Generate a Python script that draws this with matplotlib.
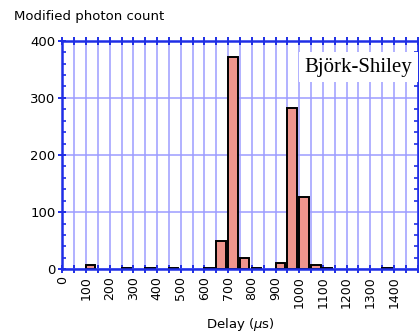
import numpy as np
import matplotlib
matplotlib.use("Agg")
import matplotlib.pyplot as plt
from matplotlib.ticker import MultipleLocator

# ----------------------------
# Data: histogram bins (start of 50 us bin) and counts
# ----------------------------
bin_starts = [100, 250, 350, 450, 600, 650, 700, 750, 800, 900, 950, 1000, 1050, 1100, 1350]
counts = [8, 3, 3, 3, 3, 50, 372, 20, 3, 11, 283, 127, 8, 3, 3]
xtick_labels = [str(v) for v in range(0, 1500, 100)]

BIN_WIDTH = 50
BLUE = "#1f2ee6"
GRID = "#9c9cff"
BAR = "#ef958d"

plt.rcParams["font.family"] = "DejaVu Sans"

fig = plt.figure(figsize=(4.19, 3.34), dpi=100)
ax = fig.add_axes([0.1487, 0.1937, 0.8482, 0.6844])

ax.bar(bin_starts, counts, width=BIN_WIDTH * 0.8, align="edge",
       color=BAR, edgecolor="black", linewidth=1.4, zorder=3)

ax.set_xlim(0, 1500)
ax.set_ylim(0, 400)

# x: labels every 100, grid/ticks every 50
ax.set_xticks(range(0, 1500, 100))
ax.set_xticklabels(xtick_labels, rotation=90, fontsize=9)
ax.xaxis.set_minor_locator(MultipleLocator(50))
ax.yaxis.set_major_locator(MultipleLocator(100))
ax.yaxis.set_minor_locator(MultipleLocator(20))
ax.tick_params(axis="y", labelsize=9.5)

ax.grid(True, which="major", axis="y", color=GRID, linewidth=1.1, zorder=1)
ax.grid(True, which="both", axis="x", color=GRID, linewidth=1.1, zorder=1)

for side in ["left", "right", "top", "bottom"]:
    ax.spines[side].set_color(BLUE)
    ax.spines[side].set_linewidth(1.8)
    ax.spines[side].set_zorder(4)

ax.tick_params(axis="x", which="both", direction="inout", length=6, width=1.4,
               color=BLUE, top=True, bottom=True, pad=2)
ax.tick_params(axis="y", which="major", direction="inout", length=6, width=1.4,
               color=BLUE, left=True, right=False, pad=2)
ax.tick_params(axis="y", which="minor", direction="in", length=3, width=1.2,
               color=BLUE, left=True, right=True)

ax.set_xlabel(r"Delay ($\mu$s)", fontsize=9.5, labelpad=6)
fig.text(0.033, 0.952, "Modified photon count", fontsize=9.5, va="center", ha="left")

ax.text(0.985, 0.885, "Björk-Shiley", transform=ax.transAxes, ha="right", va="center",
        fontsize=15, family="Liberation Serif", zorder=5,
        bbox=dict(boxstyle="square,pad=0.25", facecolor="white", edgecolor="none"))

fig.savefig("out.png", dpi=100)
